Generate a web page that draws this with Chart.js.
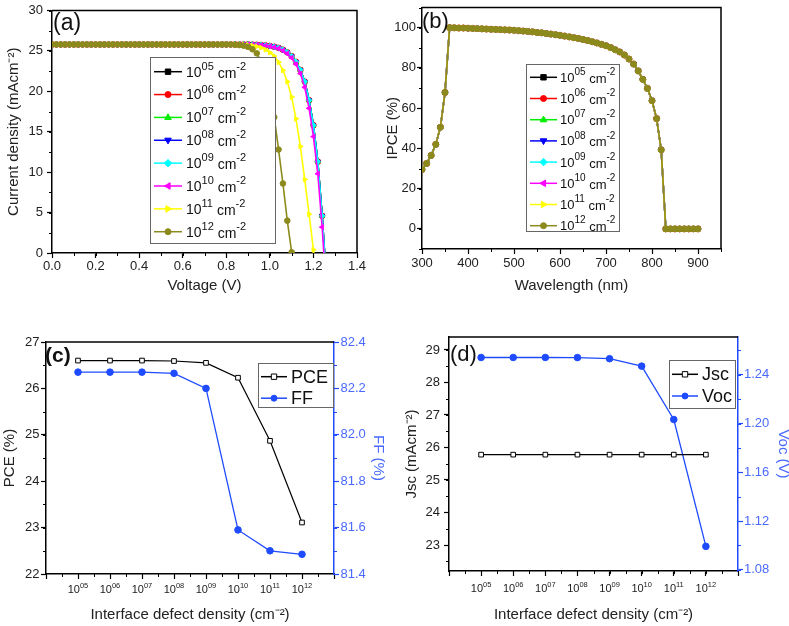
<!DOCTYPE html>
<html><head><meta charset="utf-8">
<script src="https://cdn.jsdelivr.net/npm/chart.js@4.4.1/dist/chart.umd.min.js"></script>
<style>
html,body{margin:0;padding:0;background:#fff;overflow:hidden;width:789px;height:626px;}
canvas{position:absolute;}
</style></head><body>
<canvas id="ca" style="left:0;top:0" width="380" height="300"></canvas>
<canvas id="cb" style="left:380px;top:0" width="409" height="300"></canvas>
<canvas id="cc" style="left:0;top:300px" width="400" height="326"></canvas>
<canvas id="cd" style="left:400px;top:300px" width="400" height="326"></canvas>
<script>
// ---------------- DATA ----------------
const seriesExp = ['05','06','07','08','09','10','11','12'];
const seriesColors = ['#000000','#ff0000','#00ee00','#0000ff','#00ffff','#ff00ff','#ffff00','#8c8a1c'];
const markerStyles = ['rect','circle','triangle','triangle','rectRot','triangle','triangle','circle'];
const markerRot = [0,0,0,180,0,-90,90,0];

// panel (a): J-V curves
const voltage = [0.00,0.02,0.04,0.06,0.08,0.10,0.12,0.14,0.16,0.18,
  0.20,0.22,0.24,0.26,0.28,0.30,0.32,0.34,0.36,0.38,
  0.40,0.42,0.44,0.46,0.48,0.50,0.52,0.54,0.56,0.58,
  0.60,0.62,0.64,0.66,0.68,0.70,0.72,0.74,0.76,0.78,
  0.80,0.82,0.84,0.86,0.88,0.90,0.92,0.94,0.96,0.98,
  1.00,1.02,1.04,1.06,1.08,1.10,1.12,1.14,1.16,1.18,
  1.20,1.22,1.24,1.26];
const jLow = [25.8,25.8,25.8,25.8,25.8,25.8,25.8,25.8,25.8,25.8,
  25.8,25.8,25.8,25.8,25.8,25.8,25.8,25.8,25.8,25.8,
  25.8,25.8,25.8,25.8,25.8,25.8,25.8,25.8,25.8,25.8,
  25.8,25.8,25.8,25.8,25.8,25.8,25.8,25.8,25.8,25.8,
  25.8,25.8,25.8,25.8,25.8,25.8,25.78,25.76,25.73,25.68,
  25.62,25.52,25.38,25.15,24.82,24.35,23.65,22.65,21.2,18.9,
  15.8,11.3,4.6,-3.5];
const j10 = [25.8,25.8,25.8,25.8,25.8,25.8,25.8,25.8,25.8,25.8,
  25.8,25.8,25.8,25.8,25.8,25.8,25.8,25.8,25.8,25.8,
  25.8,25.8,25.8,25.8,25.8,25.8,25.8,25.8,25.8,25.8,
  25.8,25.8,25.8,25.8,25.8,25.8,25.8,25.8,25.8,25.8,
  25.8,25.8,25.8,25.8,25.8,25.8,25.78,25.75,25.71,25.66,
  25.58,25.47,25.3,25.05,24.68,24.15,23.35,22.2,20.5,17.9,
  14.4,9.8,3.2,-5.0];
const j11 = [25.8,25.8,25.8,25.8,25.8,25.8,25.8,25.8,25.8,25.8,
  25.8,25.8,25.8,25.8,25.8,25.8,25.8,25.8,25.8,25.8,
  25.8,25.8,25.8,25.8,25.8,25.8,25.8,25.8,25.8,25.8,
  25.8,25.8,25.8,25.8,25.8,25.8,25.8,25.8,25.8,25.8,
  25.8,25.8,25.8,25.8,25.77,25.72,25.65,25.55,25.4,25.15,
  24.8,24.35,23.6,22.6,21.2,19.3,16.6,13.2,9.1,4.8,
  0.4,-4.5];
const j12 = [25.8,25.8,25.8,25.8,25.8,25.8,25.8,25.8,25.8,25.8,
  25.8,25.8,25.8,25.8,25.8,25.8,25.8,25.8,25.8,25.8,
  25.8,25.8,25.8,25.8,25.8,25.8,25.8,25.8,25.8,25.8,
  25.8,25.8,25.8,25.8,25.8,25.8,25.8,25.8,25.8,25.8,
  25.8,25.8,25.76,25.72,25.65,25.5,25.2,24.7,23.7,22.0,
  19.7,16.8,12.8,8.6,4.0,0.1];
const jBySeries = [jLow, jLow, jLow, jLow, jLow, j10, j11, j12];
const voltTicks = [0,0.2,0.4,0.6,0.8,1.0,1.2,1.4];
const currentTicks = [0,5,10,15,20,25,30];

// panel (b): IPCE (all densities overlap)
const wavelength = [300,310,320,330,340,350,360,370,380,390,
  400,410,420,430,440,450,460,470,480,490,
  500,510,520,530,540,550,560,570,580,590,
  600,610,620,630,640,650,660,670,680,690,
  700,710,720,730,740,750,760,770,780,790,
  800,810,820,830,840,850,860,870,880,890,900];
const ipce = [29.5,32.5,36.5,42.0,50.5,67.8,100.0,99.9,99.8,99.8,
  99.7,99.6,99.5,99.4,99.3,99.2,99.1,99.0,98.9,98.8,
  98.7,98.5,98.3,98.1,97.9,97.6,97.4,97.1,96.8,96.5,
  96.2,95.8,95.4,95.0,94.6,94.1,93.6,93.0,92.4,91.7,
  91.0,90.1,89.0,87.9,86.4,84.4,81.9,78.5,74.3,69.8,
  63.7,54.8,39.3,0,0,0,0,0,0,0,0];
const wlTicks = [300,400,500,600,700,800,900];
const ipceTicks = [0,20,40,60,80,100];

// panels (c),(d): vs interface defect density (log10 exponent)
const defectExp = [5,6,7,8,9,10,11,12];
const defectLabels = ['05','06','07','08','09','10','11','12'];
const defectTicks = [4,5,6,7,8,9,10,11,12,13];
const pce = [26.60,26.60,26.60,26.59,26.55,26.23,24.87,23.11];
const ff  = [82.27,82.27,82.27,82.265,82.20,81.59,81.50,81.485];
const jsc = [25.78,25.78,25.78,25.78,25.78,25.78,25.78,25.78];
const voc = [1.2542,1.2542,1.2542,1.2541,1.2532,1.2471,1.2033,1.0992];
const pceTicks = [22,23,24,25,26,27];
const ffTicks = [81.4,81.6,81.8,82.0,82.2,82.4];
const jscTicks = [23,24,25,26,27,28,29];
const vocTicks = [1.08,1.12,1.16,1.20,1.24];

// ---------------- HELPERS ----------------
const FONT = "'Liberation Sans', Arial, Helvetica, sans-serif";
const BLUE = '#1f4bff';
const BLUE_TXT = '#4a6aff';
const TXT = '#222';

function marker(ctx, style, rot, r, x, y, fill, stroke) {
  ctx.save(); ctx.translate(x, y); ctx.rotate((rot || 0) * Math.PI / 180);
  ctx.beginPath();
  if (style === 'circle') ctx.arc(0, 0, r, 0, 2 * Math.PI);
  else if (style === 'rect') ctx.rect(-r * 0.9, -r * 0.9, r * 1.8, r * 1.8);
  else if (style === 'rectRot') { ctx.moveTo(0, -r * 1.25); ctx.lineTo(r * 1.25, 0); ctx.lineTo(0, r * 1.25); ctx.lineTo(-r * 1.25, 0); ctx.closePath(); }
  else { ctx.moveTo(0, -r * 1.2); ctx.lineTo(r * 1.1, r * 0.7); ctx.lineTo(-r * 1.1, r * 0.7); ctx.closePath(); }
  ctx.fillStyle = fill; ctx.fill(); ctx.strokeStyle = stroke; ctx.lineWidth = 1; ctx.stroke();
  ctx.restore();
}
function drawRich(ctx, parts, x, y, align) {
  let w = 0;
  parts.forEach(p => { ctx.font = p.font; w += ctx.measureText(p.t).width; });
  let cx = align === 'center' ? x - w / 2 : x;
  ctx.textAlign = 'left';
  parts.forEach(p => { ctx.font = p.font; ctx.fillText(p.t, cx, y + (p.dy || 0)); cx += ctx.measureText(p.t).width; });
}

const deco = {
  id: 'deco',
  afterDraw(chart, args, o) {
    const ctx = chart.ctx, ca = chart.chartArea;
    ctx.save();
    (o.minor || []).forEach(m => {
      const s = chart.scales[m.axis];
      ctx.strokeStyle = m.color || '#000'; ctx.lineWidth = 1;
      const n0 = Math.ceil(s.min / m.step - 1e-6), n1 = Math.floor(s.max / m.step + 1e-6);
      for (let n = n0; n <= n1; n++) {
        const p = Math.round(s.getPixelForValue(n * m.step)) + 0.5;
        ctx.beginPath();
        if (s.isHorizontal()) { ctx.moveTo(p, ca.bottom); ctx.lineTo(p, ca.bottom + m.len); }
        else if (s.position === 'left') { ctx.moveTo(ca.left, p); ctx.lineTo(ca.left - m.len, p); }
        else { ctx.moveTo(ca.right, p); ctx.lineTo(ca.right + m.len, p); }
        ctx.stroke();
      }
    });
    if (o.frame) {
      ctx.strokeStyle = '#000'; ctx.lineWidth = 1.5;
      ctx.beginPath(); ctx.moveTo(ca.left, ca.top); ctx.lineTo(ca.right, ca.top);
      if (o.frame.right) ctx.lineTo(ca.right, ca.bottom);
      ctx.stroke();
    }
    if (o.xSup) {
      const s = chart.scales.x;
      ctx.fillStyle = TXT; ctx.textBaseline = 'alphabetic';
      o.xSup.values.forEach((v, i) => {
        drawRich(ctx, [{t: '10', font: '11px ' + FONT}, {t: o.xSup.sups[i], font: '7.5px ' + FONT, dy: -5.5}],
          s.getPixelForValue(v), ca.bottom + o.xSup.dy, 'center');
      });
    }
    const L = o.legend;
    if (L) {
      ctx.fillStyle = '#fff'; ctx.fillRect(L.box[0], L.box[1], L.box[2], L.box[3]);
      ctx.strokeStyle = '#666'; ctx.lineWidth = 1;
      ctx.strokeRect(L.box[0] + 0.5, L.box[1] + 0.5, L.box[2], L.box[3]);
      L.items.forEach((it, i) => {
        const y = L.y0 + i * L.dy;
        ctx.strokeStyle = it.color; ctx.lineWidth = 1.5;
        ctx.beginPath(); ctx.moveTo(L.x0, y); ctx.lineTo(L.x1, y); ctx.stroke();
        marker(ctx, it.style, it.rot, L.r, (L.x0 + L.x1) / 2, y, it.fill, it.color);
        ctx.fillStyle = '#111'; ctx.textBaseline = 'middle';
        drawRich(ctx, it.parts, L.tx, y + (L.ty || 0), 'left');
      });
    }
    if (o.panel) {
      ctx.fillStyle = '#111'; ctx.textBaseline = 'middle'; ctx.textAlign = 'left';
      ctx.font = o.panel.font; ctx.fillText(o.panel.text, o.panel.x, o.panel.y);
    }
    ctx.restore();
  }
};

function fixedTicks(arr) { return s => { s.ticks = arr.map(v => ({value: v})); }; }
function tickFont(sz) { return {family: FONT, size: sz, lineHeight: 1}; }
function axisBase(color) {
  return {
    grid: {display: true, drawOnChartArea: false, drawTicks: true, tickLength: 5, tickColor: color, tickWidth: 1.2},
    border: {display: true, color: color, width: 1.5}
  };
}
const common = {
  responsive: false, animation: false, devicePixelRatio: 1,
  plugins: {legend: {display: false}, tooltip: {enabled: false}}
};

// ---------------- PANEL (a) ----------------
const legendA = seriesExp.map((e, i) => ({
  color: seriesColors[i], style: markerStyles[i], rot: markerRot[i], fill: seriesColors[i],
  parts: [{t: '10', font: '14px ' + FONT}, {t: e, font: '11px ' + FONT, dy: -6},
          {t: ' cm', font: '14px ' + FONT, dy: 1}, {t: '-2', font: '11px ' + FONT, dy: -6}]
}));
new Chart(document.getElementById('ca'), {
  type: 'line',
  data: {datasets: seriesExp.map((e, i) => ({
    label: '10^' + e + ' cm^-2',
    data: jBySeries[i].map((j, k) => ({x: voltage[k], y: j})),
    borderColor: seriesColors[i], backgroundColor: seriesColors[i],
    pointStyle: markerStyles[i], pointRotation: markerRot[i], pointRadius: 2.8,
    pointBorderWidth: 1, borderWidth: 1.6, order: 7 - i
  }))},
  options: Object.assign({}, common, {
    layout: {padding: {left: 0, right: 23, top: 7, bottom: 0}},
    scales: {
      x: Object.assign(axisBase('#000'), {
        type: 'linear', min: 0, max: 1.4, afterBuildTicks: fixedTicks(voltTicks),
        ticks: {callback: v => v.toFixed(1), font: tickFont(13), color: TXT, padding: 2, maxRotation: 0, autoSkip: false},
        title: {display: true, text: 'Voltage (V)', font: {family: FONT, size: 15}, color: TXT, padding: {top: 0, bottom: 5}},
        afterFit: s => { s.height = 47; }
      }),
      y: Object.assign(axisBase('#000'), {
        type: 'linear', min: 0, max: 30, afterBuildTicks: fixedTicks(currentTicks),
        ticks: {font: tickFont(13), color: TXT, padding: 4},
        title: {display: true, text: 'Current density (mAcm⁻²)', font: {family: FONT, size: 15}, color: TXT, padding: {top: 5, bottom: 0}},
        afterFit: s => { s.width = 52; }
      })
    },
    plugins: Object.assign({}, common.plugins, {deco: {
      minor: [{axis: 'x', step: 0.1, len: 3}, {axis: 'y', step: 2.5, len: 3}],
      frame: {right: true},
      legend: {box: [150, 57, 125, 186], items: legendA, y0: 71.7, dy: 22.86, x0: 154, x1: 182, r: 3, tx: 186, ty: 1},
      panel: {text: '(a)', x: 53, y: 24, font: '23px ' + FONT}
    }})
  }),
  plugins: [deco]
});

// ---------------- PANEL (b) ----------------
const legendB = seriesExp.map((e, i) => ({
  color: seriesColors[i], style: markerStyles[i], rot: markerRot[i], fill: seriesColors[i],
  parts: [{t: '10', font: '13px ' + FONT}, {t: e, font: '10px ' + FONT, dy: -6},
          {t: ' cm', font: '13px ' + FONT, dy: 1}, {t: '-2', font: '10px ' + FONT, dy: -6}]
}));
new Chart(document.getElementById('cb'), {
  type: 'line',
  data: {datasets: seriesExp.map((e, i) => ({
    label: '10^' + e + ' cm^-2',
    data: ipce.map((v, k) => ({x: wavelength[k], y: v})),
    borderColor: seriesColors[i], backgroundColor: seriesColors[i],
    pointStyle: markerStyles[i], pointRotation: markerRot[i], pointRadius: 3,
    pointBorderWidth: 1, borderWidth: 1.6, order: 7 - i
  }))},
  options: Object.assign({}, common, {
    layout: {padding: {left: 0, right: 68, top: 7, bottom: 0}},
    scales: {
      x: Object.assign(axisBase('#000'), {
        type: 'linear', min: 300, max: 950, afterBuildTicks: fixedTicks(wlTicks),
        ticks: {font: tickFont(13), color: TXT, padding: 2.5, maxRotation: 0, autoSkip: false},
        title: {display: true, text: 'Wavelength (nm)', font: {family: FONT, size: 15}, color: TXT, padding: {top: 0, bottom: 5}},
        afterFit: s => { s.height = 51; }
      }),
      y: Object.assign(axisBase('#000'), {
        type: 'linear', min: -10, max: 110, afterBuildTicks: fixedTicks(ipceTicks),
        ticks: {font: tickFont(13), color: TXT, padding: 1},
        title: {display: true, text: 'IPCE (%)', font: {family: FONT, size: 15}, color: TXT, padding: {top: 4, bottom: 0}},
        afterFit: s => { s.width = 42; }
      })
    },
    plugins: Object.assign({}, common.plugins, {deco: {
      minor: [{axis: 'x', step: 50, len: 3}, {axis: 'y', step: 10, len: 3}],
      frame: {right: true},
      legend: {box: [146, 64, 93, 167], items: legendB, y0: 77.3, dy: 21.2, x0: 150, x1: 177, r: 3, tx: 180, ty: 1},
      panel: {text: '(b)', x: 42, y: 22, font: '22px ' + FONT}
    }})
  }),
  plugins: [deco]
});

// ---------------- PANEL (c) ----------------
new Chart(document.getElementById('cc'), {
  type: 'line',
  data: {datasets: [
    {label: 'PCE', yAxisID: 'y', data: pce.map((v, i) => ({x: defectExp[i], y: v})),
     borderColor: '#000', borderWidth: 1.2, pointStyle: 'rect', pointRadius: 3.3,
     pointBackgroundColor: '#fff', pointBorderColor: '#000', pointBorderWidth: 1},
    {label: 'FF', yAxisID: 'y1', data: ff.map((v, i) => ({x: defectExp[i], y: v})),
     borderColor: BLUE, borderWidth: 1.3, pointStyle: 'circle', pointRadius: 3.3,
     pointBackgroundColor: BLUE, pointBorderColor: BLUE, pointBorderWidth: 1}
  ]},
  options: Object.assign({}, common, {
    layout: {padding: {left: 0, right: 8, top: 42, bottom: 0}},
    scales: {
      x: Object.assign(axisBase('#000'), {
        type: 'linear', min: 4, max: 13, afterBuildTicks: fixedTicks(defectTicks),
        ticks: {display: false},
        title: {display: true, text: 'Interface defect density (cm⁻²)', font: {family: FONT, size: 15}, color: TXT, padding: {top: 0, bottom: 2}},
        afterFit: s => { s.height = 52; }
      }),
      y: Object.assign(axisBase('#000'), {
        type: 'linear', position: 'left', min: 22, max: 27, afterBuildTicks: fixedTicks(pceTicks),
        ticks: {font: tickFont(13), color: TXT, padding: 1.5},
        title: {display: true, text: 'PCE (%)', font: {family: FONT, size: 15}, color: TXT, padding: {top: 1, bottom: 0}},
        afterFit: s => { s.width = 46; }
      }),
      y1: Object.assign(axisBase(BLUE), {
        type: 'linear', position: 'right', min: 81.4, max: 82.4, afterBuildTicks: fixedTicks(ffTicks),
        ticks: {callback: v => v.toFixed(1), font: tickFont(13), color: BLUE_TXT, padding: 1.5},
        title: {display: true, text: 'FF (%)', font: {family: FONT, size: 15}, color: BLUE_TXT, padding: {top: 5, bottom: 0}},
        afterFit: s => { s.width = 58; }
      })
    },
    plugins: Object.assign({}, common.plugins, {deco: {
      minor: [{axis: 'x', step: 0.5, len: 3}, {axis: 'y', step: 0.5, len: 3}, {axis: 'y1', step: 0.1, len: 3, color: BLUE}],
      frame: {right: false},
      xSup: {values: defectExp, sups: defectLabels, dy: 19},
      legend: {box: [258, 63, 75, 44], items: [
        {color: '#000', style: 'rect', fill: '#fff', parts: [{t: 'PCE', font: '18px ' + FONT}]},
        {color: BLUE, style: 'circle', fill: BLUE, parts: [{t: 'FF', font: '18px ' + FONT}]}
      ], y0: 76.7, dy: 21.5, x0: 261, x1: 287, r: 3, tx: 291, ty: 1},
      panel: {text: '(c)', x: 45, y: 56, font: 'bold 21px ' + FONT}
    }})
  }),
  plugins: [deco]
});

// ---------------- PANEL (d) ----------------
new Chart(document.getElementById('cd'), {
  type: 'line',
  data: {datasets: [
    {label: 'Jsc', yAxisID: 'y', data: jsc.map((v, i) => ({x: defectExp[i], y: v})),
     borderColor: '#000', borderWidth: 1.2, pointStyle: 'rect', pointRadius: 3.3,
     pointBackgroundColor: '#fff', pointBorderColor: '#000', pointBorderWidth: 1},
    {label: 'Voc', yAxisID: 'y1', data: voc.map((v, i) => ({x: defectExp[i], y: v})),
     borderColor: BLUE, borderWidth: 1.3, pointStyle: 'circle', pointRadius: 3.3,
     pointBackgroundColor: BLUE, pointBorderColor: BLUE, pointBorderWidth: 1}
  ]},
  options: Object.assign({}, common, {
    layout: {padding: {left: 0, right: 8, top: 37, bottom: 0}},
    scales: {
      x: Object.assign(axisBase('#000'), {
        type: 'linear', min: 4, max: 13, afterBuildTicks: fixedTicks(defectTicks),
        ticks: {display: false},
        title: {display: true, text: 'Interface defect density (cm⁻²)', font: {family: FONT, size: 15}, color: TXT, padding: {top: 0, bottom: 2}},
        afterFit: s => { s.height = 55; }
      }),
      y: Object.assign(axisBase('#000'), {
        type: 'linear', position: 'left', min: 22.2, max: 29.4, afterBuildTicks: fixedTicks(jscTicks),
        ticks: {font: tickFont(13), color: TXT, padding: 4},
        title: {display: true, text: 'Jsc (mAcm⁻²)', font: {family: FONT, size: 15}, color: TXT, padding: {top: 3, bottom: 0}},
        afterFit: s => { s.width = 49; }
      }),
      y1: Object.assign(axisBase(BLUE), {
        type: 'linear', position: 'right', min: 1.079, max: 1.271, afterBuildTicks: fixedTicks(vocTicks),
        ticks: {callback: v => v.toFixed(2), font: tickFont(13), color: BLUE_TXT, padding: 1},
        title: {display: true, text: 'Voc (V)', font: {family: FONT, size: 15}, color: BLUE_TXT, padding: {top: 0, bottom: 0}},
        afterFit: s => { s.width = 54; }
      })
    },
    plugins: Object.assign({}, common.plugins, {deco: {
      minor: [{axis: 'x', step: 0.5, len: 3}, {axis: 'y', step: 0.5, len: 3}, {axis: 'y1', step: 0.02, len: 3, color: BLUE}],
      frame: {right: false},
      xSup: {values: defectExp, sups: defectLabels, dy: 21},
      legend: {box: [269, 60, 66, 48], items: [
        {color: '#000', style: 'rect', fill: '#fff', parts: [{t: 'Jsc', font: '18px ' + FONT}]},
        {color: BLUE, style: 'circle', fill: BLUE, parts: [{t: 'Voc', font: '18px ' + FONT}]}
      ], y0: 74.3, dy: 21.7, x0: 272, x1: 298, r: 3, tx: 302, ty: 1},
      panel: {text: '(d)', x: 50, y: 55, font: '22px ' + FONT}
    }})
  }),
  plugins: [deco]
});
</script>
</body></html>
